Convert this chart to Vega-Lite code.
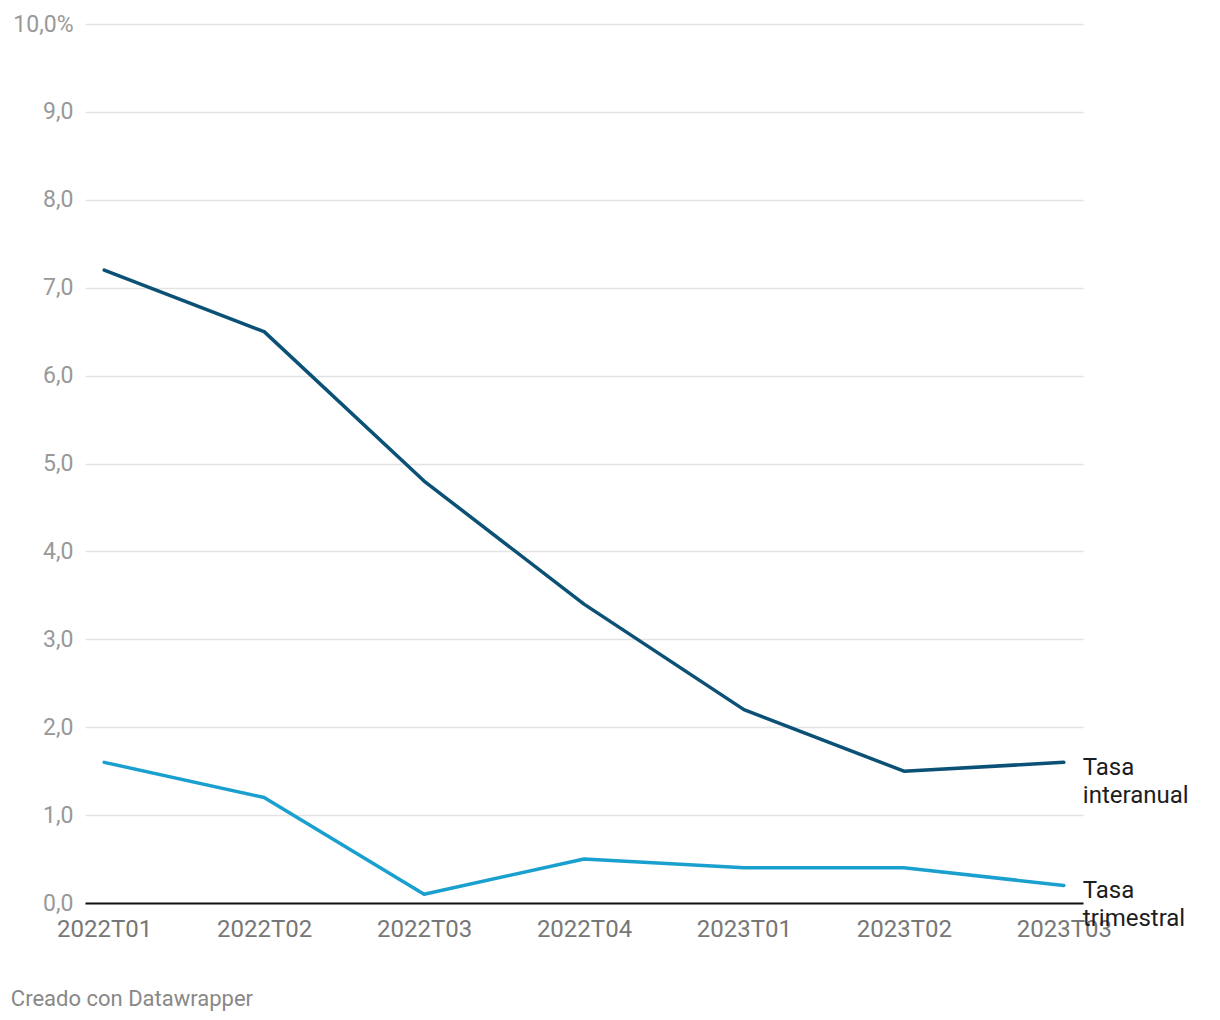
{
  "$schema": "https://vega.github.io/schema/vega-lite/v6.json",
  "width": 998,
  "height": 879,
  "autosize": {"type": "none"},
  "padding": {"left": 85, "top": 24, "right": 137, "bottom": 117},
  "background": "white",
  "config": {"font": "Roboto", "view": {"stroke": null}},
  "title": {
    "text": "Creado con Datawrapper",
    "orient": "bottom",
    "anchor": "start",
    "frame": "bounds",
    "fontSize": 22,
    "fontWeight": "normal",
    "color": "#888888",
    "offset": 48,
    "dx": -2
  },
  "data": {
    "values": [
      {"period": "2022T01", "serie": "Tasa interanual", "label": "Tasa\ninteranual", "value": 7.2},
      {"period": "2022T02", "serie": "Tasa interanual", "label": "Tasa\ninteranual", "value": 6.5},
      {"period": "2022T03", "serie": "Tasa interanual", "label": "Tasa\ninteranual", "value": 4.8},
      {"period": "2022T04", "serie": "Tasa interanual", "label": "Tasa\ninteranual", "value": 3.4},
      {"period": "2023T01", "serie": "Tasa interanual", "label": "Tasa\ninteranual", "value": 2.2},
      {"period": "2023T02", "serie": "Tasa interanual", "label": "Tasa\ninteranual", "value": 1.5},
      {"period": "2023T03", "serie": "Tasa interanual", "label": "Tasa\ninteranual", "value": 1.6},
      {"period": "2022T01", "serie": "Tasa trimestral", "label": "Tasa\ntrimestral", "value": 1.6},
      {"period": "2022T02", "serie": "Tasa trimestral", "label": "Tasa\ntrimestral", "value": 1.2},
      {"period": "2022T03", "serie": "Tasa trimestral", "label": "Tasa\ntrimestral", "value": 0.1},
      {"period": "2022T04", "serie": "Tasa trimestral", "label": "Tasa\ntrimestral", "value": 0.5},
      {"period": "2023T01", "serie": "Tasa trimestral", "label": "Tasa\ntrimestral", "value": 0.4},
      {"period": "2023T02", "serie": "Tasa trimestral", "label": "Tasa\ntrimestral", "value": 0.4},
      {"period": "2023T03", "serie": "Tasa trimestral", "label": "Tasa\ntrimestral", "value": 0.2}
    ]
  },
  "encoding": {
    "x": {
      "field": "period",
      "type": "ordinal",
      "scale": {"type": "point", "padding": 0.12},
      "axis": {
        "title": null,
        "labelAngle": 0,
        "labelFontSize": 24,
        "labelColor": "#777777",
        "labelPadding": 14,
        "ticks": false,
        "domain": true,
        "domainColor": "#111111",
        "domainWidth": 2,
        "grid": false
      }
    },
    "y": {
      "field": "value",
      "type": "quantitative",
      "scale": {"domain": [0, 10], "nice": false},
      "axis": {
        "title": null,
        "values": [0, 1, 2, 3, 4, 5, 6, 7, 8, 9, 10],
        "labelExpr": "datum.value == 10 ? '10,0%' : replace(format(datum.value, '.1f'), '.', ',')",
        "labelFontSize": 23,
        "labelColor": "#999999",
        "labelPadding": 12,
        "ticks": false,
        "domain": false,
        "grid": true,
        "gridColor": "#e3e3e3",
        "gridWidth": 1.5
      }
    }
  },
  "layer": [
    {
      "mark": {"type": "line", "strokeWidth": 3.5, "strokeCap": "round", "strokeJoin": "round"},
      "encoding": {
        "color": {
          "field": "serie",
          "type": "nominal",
          "scale": {"domain": ["Tasa interanual", "Tasa trimestral"], "range": ["#0b5176", "#1aa0cf"]},
          "legend": null
        }
      }
    },
    {
      "transform": [{"filter": "datum.period == '2023T03'"}],
      "mark": {
        "type": "text",
        "align": "left",
        "baseline": "top",
        "dx": 19,
        "dy": -6,
        "fontSize": 24,
        "lineHeight": 28,
        "lineBreak": "\n",
        "color": "#1d1d1d"
      },
      "encoding": {
        "text": {"field": "label"}
      }
    }
  ]
}
